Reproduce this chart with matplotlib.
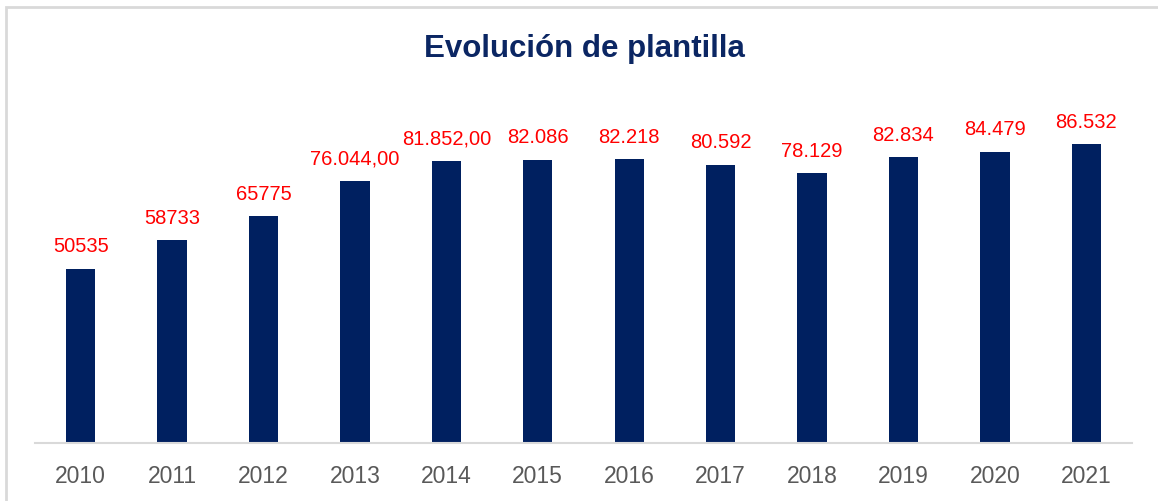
import matplotlib.pyplot as plt
from matplotlib.patches import Rectangle

years = ['2010', '2011', '2012', '2013', '2014', '2015',
         '2016', '2017', '2018', '2019', '2020', '2021']
plantilla = [50535, 58733, 65775, 76044, 81852, 82086,
             82218, 80592, 78129, 82834, 84479, 86532]
etiquetas = ['50535', '58733', '65775', '76.044,00', '81.852,00', '82.086',
             '82.218', '80.592', '78.129', '82.834', '84.479', '86.532']

W, H = 1158, 501
fig = plt.figure(figsize=(W / 100, H / 100), dpi=100)
plt.rcParams['font.family'] = ['Liberation Sans', 'DejaVu Sans']

# light gray frame around the chart (open on right/bottom as in the source)
fig.patches.append(Rectangle((6 / W, -0.1), 1.2, 1.1 - 7 / H,
                             transform=fig.transFigure, fill=False,
                             edgecolor='#D9D9D9', linewidth=2))

ax = fig.add_axes([35 / W, 1 - 443 / H, 1097 / W, 345 / H])
x = range(len(years))
ax.bar(x, plantilla, width=0.32, color='#002060')
ax.set_xlim(-0.5, len(years) - 0.5)
ax.set_ylim(0, 100000)

for xi, v, lab in zip(x, plantilla, etiquetas):
    ax.annotate(lab, (xi, v), xytext=(0, 9), textcoords='offset points',
                ha='center', va='bottom', color='#FF0000', fontsize=14.5)

ax.set_xticks(list(x))
ax.set_xticklabels(years, fontsize=16.5, color='#595959')
ax.tick_params(axis='x', length=0, pad=15.5)
ax.set_yticks([])
for s in ['left', 'right', 'top']:
    ax.spines[s].set_visible(False)
ax.spines['bottom'].set_color('#D9D9D9')
ax.spines['bottom'].set_linewidth(1.5)

fig.text(584 / W, 1 - 57 / H, 'Evolución de plantilla', ha='center', va='baseline',
         fontsize=22.5, fontweight='bold', color='#0B2663')

fig.savefig('out.png', dpi=100)
